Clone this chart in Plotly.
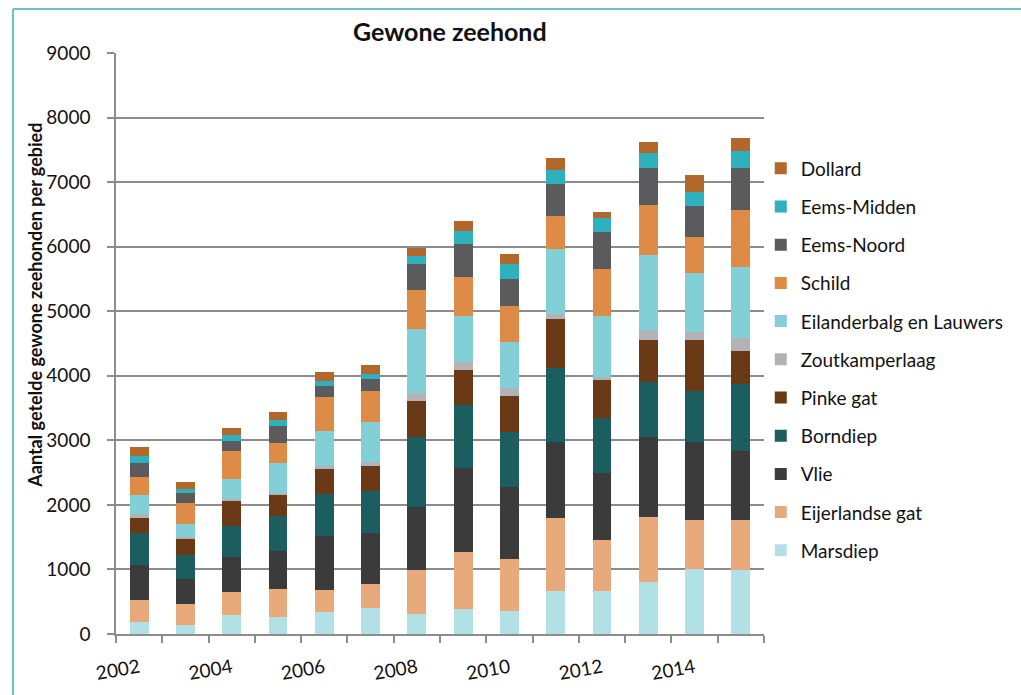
import plotly.graph_objects as go

years = list(range(2002, 2016))
tick_years = [2002, 2004, 2006, 2008, 2010, 2012, 2014]

marsdiep = [190, 132, 288, 262, 339, 407, 314, 392, 351, 671, 661, 805, 1012, 986]
eijerlandse_gat = [330, 338, 362, 430, 348, 374, 684, 873, 811, 1126, 790, 1002, 748, 785]
vlie = [556, 378, 545, 596, 829, 787, 974, 1306, 1110, 1172, 1043, 1244, 1214, 1058]
borndiep = [482, 373, 482, 544, 654, 653, 1084, 981, 851, 1151, 851, 852, 784, 1043]
pinke_gat = [233, 249, 389, 322, 388, 389, 549, 532, 568, 764, 594, 645, 790, 516]
zoutkamperlaag = [63, 35, 21, 26, 47, 52, 131, 129, 119, 72, 41, 165, 124, 196]
eilanderbalg = [300, 193, 311, 467, 533, 623, 995, 707, 707, 1012, 940, 1152, 919, 1100]
schild = [285, 327, 440, 311, 529, 486, 596, 604, 558, 501, 738, 784, 558, 888]
eems_noord = [208, 155, 145, 258, 171, 182, 404, 521, 423, 501, 563, 564, 475, 647]
eems_midden = [103, 63, 104, 94, 78, 78, 120, 202, 233, 222, 222, 239, 222, 258]
dollard = [140, 108, 104, 124, 146, 129, 124, 155, 154, 180, 88, 172, 258, 209]

series = [
    ("Marsdiep", marsdiep, "#b2e1e5"),
    ("Eijerlandse gat", eijerlandse_gat, "#e9aa7b"),
    ("Vlie", vlie, "#3b3b3b"),
    ("Borndiep", borndiep, "#1c5d60"),
    ("Pinke gat", pinke_gat, "#6a3915"),
    ("Zoutkamperlaag", zoutkamperlaag, "#b3b3b5"),
    ("Eilanderbalg en Lauwers", eilanderbalg, "#82cfd7"),
    ("Schild", schild, "#dd8b46"),
    ("Eems-Noord", eems_noord, "#5b5b5d"),
    ("Eems-Midden", eems_midden, "#2fb0bd"),
    ("Dollard", dollard, "#b3682b"),
]

FONT = "Lato, Open Sans, sans-serif"

fig = go.Figure()
n = len(series)
for i, (name, vals, col) in enumerate(series):
    fig.add_trace(go.Bar(x=years, y=vals, name=name, legendgroup=name,
                         legendrank=n - i,
                         marker=dict(color=col, line=dict(width=0))))

fig.update_layout(
    width=1021, height=695,
    barmode="stack", bargap=0.59,
    paper_bgcolor="white", plot_bgcolor="white",
    margin=dict(l=116, r=253, t=53, b=61),
    font=dict(family=FONT, size=15, color="#111111"),
    showlegend=True,
    legend=dict(traceorder="grouped", tracegroupgap=10.5,
                x=0.995, xanchor="left", y=0.834, yanchor="top",
                font=dict(family=FONT, size=19, color="#111111"),
                itemwidth=30, bgcolor="rgba(0,0,0,0)"),
    annotations=[
        dict(text="<b>Gewone zeehond</b>", xref="paper", yref="paper",
             x=0.515, y=1.038, xanchor="center", yanchor="middle", showarrow=False,
             font=dict(family=FONT, size=25, color="#111111")),
        dict(text="<b>Aantal getelde gewone zeehonden per gebied</b>", xref="paper", yref="paper",
             x=-0.125, y=0.565, xanchor="center", yanchor="middle", textangle=-90, showarrow=False,
             font=dict(family=FONT, size=18, color="#111111")),
    ],
    shapes=[
        dict(type="line", xref="paper", yref="paper", x0=-0.159, x1=1.4, y0=1.0757, y1=1.0757,
             line=dict(color="#6cc4c0", width=2)),
        dict(type="line", xref="paper", yref="paper", x0=-0.159, x1=-0.159, y0=1.0757, y1=-0.11,
             line=dict(color="#6cc4c0", width=2)),
    ],
)

fig.update_xaxes(
    range=[2001.5, 2015.5],
    tickmode="array", tickvals=tick_years, ticktext=[str(y) for y in tick_years],
    tickangle=-10, ticks="", showgrid=False, zeroline=False,
    showline=True, linecolor="#8c8c8c", linewidth=1.5,
    tickfont=dict(family=FONT, size=19, color="#111111"),
    ticklabelstandoff=14,
    minor=dict(tickmode="array", tickvals=[y - 0.5 for y in years] + [2015.5],
               ticks="outside", ticklen=7, tickcolor="#8c8c8c", tickwidth=1.5, showgrid=False),
)
fig.update_yaxes(
    range=[0, 9000], tickmode="array", tickvals=list(range(0, 9001, 1000)),
    showgrid=True, gridcolor="#8c8c8c", gridwidth=1.5, zeroline=False,
    showline=True, linecolor="#8c8c8c", linewidth=1.5,
    ticks="outside", ticklen=7, tickcolor="#8c8c8c", tickwidth=1.5,
    tickfont=dict(family=FONT, size=19, color="#111111"),
    ticklabelstandoff=13,
)

fig.write_html("out.html", config={"displayModeBar": False},
               post_script="document.body.style.margin='0px';")
